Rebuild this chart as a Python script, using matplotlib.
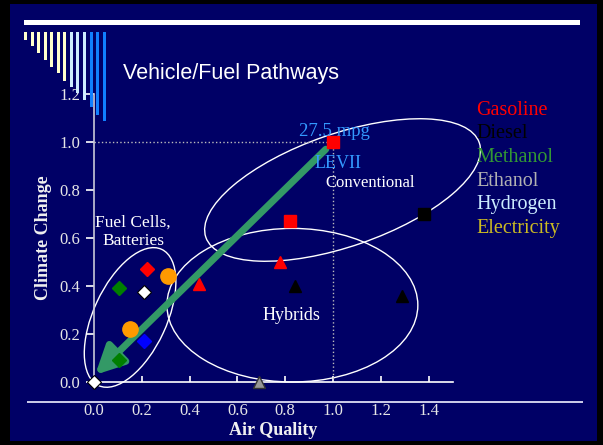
import numpy as np
import matplotlib
matplotlib.use("Agg")
from matplotlib import pyplot as plt
from matplotlib.patches import Ellipse, Rectangle

W, H = 603, 445

# fuel pathways: (air quality, climate change) relative to 27.5 mpg LEVII car
gas_square_x = [1.0, 0.82]
gas_square_y = [1.0, 0.67]
diesel_square_x = [1.38]
diesel_square_y = [0.70]
gas_triangle_x = [0.44, 0.78]
gas_triangle_y = [0.41, 0.50]
diesel_triangle_x = [0.84, 1.29]
diesel_triangle_y = [0.40, 0.36]
ethanol_triangle_x = [0.69]
ethanol_triangle_y = [0.0]
gas_diamond_x = [0.22]
gas_diamond_y = [0.47]
methanol_diamond_x = [0.105, 0.105]
methanol_diamond_y = [0.39, 0.09]
hydrogen_diamond_x = [0.21, 0.0]
hydrogen_diamond_y = [0.375, 0.0]
blue_diamond_x = [0.21]
blue_diamond_y = [0.17]
elec_circle_x = [0.31, 0.15]
elec_circle_y = [0.44, 0.22]

legend_names = ['Gasoline', 'Diesel', 'Methanol', 'Ethanol', 'Hydrogen', 'Electricity']
legend_colors = ['#FF0000', '#000000', '#339933', '#B2B2B2', '#CCECFF', '#CCBB22']

xticks = [0.0, 0.2, 0.4, 0.6, 0.8, 1.0, 1.2, 1.4]
yticks = [0.0, 0.2, 0.4, 0.6, 0.8, 1.0, 1.2]

plt.rcParams['font.family'] = 'Liberation Serif'
navy = '#000066'


def fig_rect(x0, y0, x1, y1, color, z=-5):
    # pixel box (top-left origin) -> figure fraction rectangle
    r = Rectangle((x0 / W, 1 - y1 / H), (x1 - x0) / W, (y1 - y0) / H,
                  transform=fig.transFigure, facecolor=color, edgecolor='none', zorder=z)
    fig.add_artist(r)


fig = plt.figure(figsize=(W / 100, H / 100), dpi=100)
fig.patch.set_facecolor('black')
fig_rect(10, 4, 597, 441, navy, z=-10)
fig_rect(24, 20, 580, 25, 'white', z=5)
fig_rect(27, 401, 583, 403, '#C8C8E6', z=5)

# slide decoration bars
bar_bottoms = [40, 46, 53, 60, 67, 73, 81, 87, 93, 100, 107, 115, 121]
bar_colors = ['#FFFFCC'] * 7 + ['#CCECFF'] * 3 + ['#1080FF'] * 3
for i, (b, c) in enumerate(zip(bar_bottoms, bar_colors)):
    x0 = 24 + i * 6.55
    fig_rect(x0, 32, x0 + 3, b, c, z=5)

ax = fig.add_axes([94 / W, 63 / H, 358.5 / W, 288 / H])
ax.set_facecolor('none')
ax.set_xlim(0, 1.5)
ax.set_ylim(0, 1.2)

for s in ['top', 'right']:
    ax.spines[s].set_visible(False)
ax.spines['left'].set_color('#C8C8D8')
ax.spines['bottom'].set_color('white')
ax.spines['left'].set_linewidth(1.2)
ax.spines['bottom'].set_linewidth(1.2)

ax.set_xticks(xticks)
ax.set_yticks(yticks)
ax.set_xticklabels(['%.1f' % v for v in xticks])
ax.set_yticklabels(['%.1f' % v for v in yticks])
ax.tick_params(axis='x', direction='in', length=4, width=1.2, colors='white', pad=15, labelsize=12, labelcolor='#E6E6E6')
ax.tick_params(axis='y', direction='out', length=6, width=1.2, colors='white', pad=4, labelsize=12, labelcolor='#E6E6E6')

ax.set_xlabel('Air Quality', fontsize=13, fontweight='bold', color='#F0F0F0')
ax.xaxis.set_label_coords(0.5, -0.138)
ax.set_ylabel('Climate Change', fontsize=13, fontweight='bold', color='#F0F0F0')
ax.yaxis.set_label_coords(-0.116, 0.5)

# reference dotted lines
ax.plot([0, 1.0], [1.0, 1.0], ls=':', color='#BBBBBB', lw=1)
ax.plot([1.0, 1.0], [0, 1.0], ls=':', color='#BBBBBB', lw=1)

# grouping ellipses
ell = dict(fill=False, ec='white', lw=1, clip_on=False)
ax.add_patch(Ellipse((1.04, 0.80), 1.21, 0.47, angle=19, **ell))
ax.add_patch(Ellipse((0.83, 0.32), 1.05, 0.64, angle=0, **ell))
ax.add_patch(Ellipse((0.151, 0.269), 0.626, 0.306, angle=65, **ell))

# pathway arrow
ax.annotate('', xy=(0.005, 0.03), xytext=(0.97, 0.97),
            arrowprops=dict(arrowstyle='-|>,head_length=1.0,head_width=0.5', mutation_scale=17,
                            lw=5, color='#339966', shrinkA=0, shrinkB=0))

kw = dict(ls='none', clip_on=False, zorder=6)
ax.plot(gas_square_x, gas_square_y, 's', ms=8.5, color='#FF0000', **kw)
ax.plot(diesel_square_x, diesel_square_y, 's', ms=8.5, color='black', **kw)
ax.plot(gas_triangle_x, gas_triangle_y, '^', ms=9, color='#FF0000', **kw)
ax.plot(diesel_triangle_x, diesel_triangle_y, '^', ms=9, color='black', **kw)
ax.plot(ethanol_triangle_x, ethanol_triangle_y, '^', ms=9, color='#969696', mec='#333333', **kw)
ax.plot(gas_diamond_x, gas_diamond_y, 'D', ms=7, color='#FF0000', **kw)
ax.plot(methanol_diamond_x, methanol_diamond_y, 'D', ms=7, color='#007F00', **kw)
ax.plot(hydrogen_diamond_x, hydrogen_diamond_y, 'D', ms=7, color='white', mec='black', mew=0.8, **kw)
ax.plot(blue_diamond_x, blue_diamond_y, 'D', ms=7, color='#0000FF', **kw)
ax.plot(elec_circle_x, elec_circle_y, 'o', ms=11, color='#FF9900', **kw)

# annotations
ax.text(1.008, 1.042, '27.5 mpg', color='#3399FF', fontsize=13.5, ha='center', va='center')
ax.text(1.02, 0.9125, 'LEVII', color='#3399FF', fontsize=13, ha='center', va='center')
ax.text(1.155, 0.83, 'Conventional', color='white', fontsize=12, ha='center', va='center')
ax.text(0.163, 0.625, 'Fuel Cells,\nBatteries', color='white', fontsize=12.5, ha='center',
        va='center', linespacing=1.2)
ax.text(0.828, 0.279, 'Hybrids', color='white', fontsize=13, ha='center', va='center')

for i, (name, c) in enumerate(zip(legend_names, legend_colors)):
    ax.text(1.60, 1.133 - i * 0.0985, name, color=c, fontsize=14.5, ha='left', va='center',
            clip_on=False)

fig.text(123 / W, 1 - 74 / H, 'Vehicle/Fuel Pathways', family='Liberation Sans',
         fontsize=15.5, color='white', ha='left', va='center')

fig.savefig('out.png', dpi=100, facecolor=fig.get_facecolor())
